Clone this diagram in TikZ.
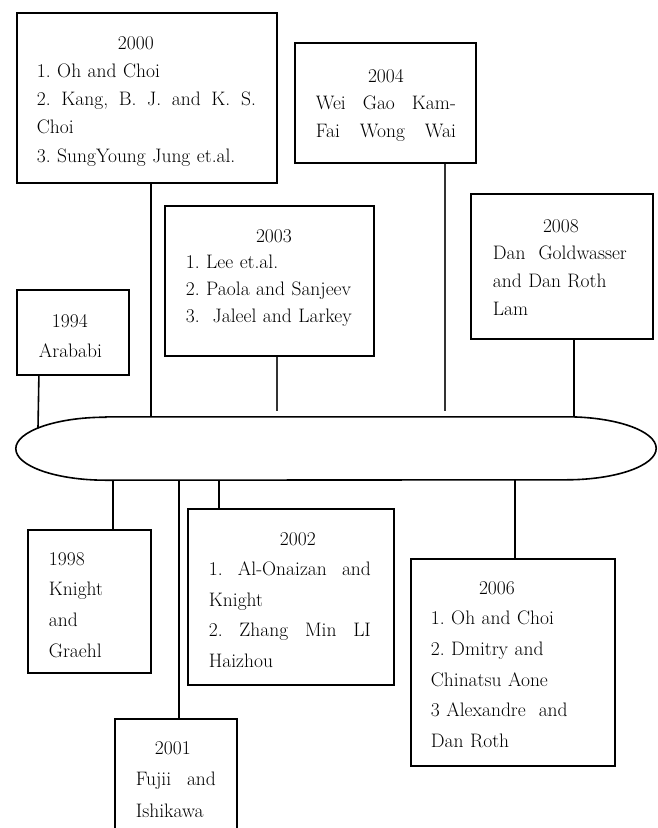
\documentclass[tikz,border=0pt]{standalone}
\usetikzlibrary{calc}
\tikzset{
  entry/.style={draw, line width=1.8pt, inner sep=0pt, anchor=north west, align=left,
    font=\fontsize{19.5pt}{#1pt}\selectfont\frenchspacing},
  conn/.style={line width=1.6pt},
  thinconn/.style={line width=1.2pt, black!80},
  stadium/.style={line width=1.6pt}
}
\newcommand\topstrut[1]{\noindent\rule{0pt}{#1}}
\newcommand\botstrut[1]{\rule[-#1]{0pt}{0pt}}
\newcommand\justline[2]{\makebox[#1][s]{\spaceskip=.3333em plus 20em\relax #2}}
\begin{document}
\begin{tikzpicture}[x=1pt,y=1pt]
\useasboundingbox (0,0) rectangle (658,-828);

% boxes above the timeline
\node[entry=28.25, minimum width=260pt, minimum height=170pt, text width=260pt] (b2000) at (16,-12) {%
\topstrut{20.1pt}\hspace*{119pt}\makebox[0pt]{2000}\\
\hspace*{20pt}1. Oh and Choi\\
\hspace*{20pt}\justline{219pt}{2. Kang, B. J. and K. S.}\\
\hspace*{20pt}Choi\\
\hspace*{20pt}3. SungYoung Jung et.al.\botstrut{4.5pt}};

\node[entry=27.5, minimum width=181pt, minimum height=120pt, text width=181pt] (b2004) at (294,-42) {%
\topstrut{18.1pt}\hspace*{91pt}\makebox[0pt]{2004}\\
\hspace*{21pt}\justline{140pt}{Wei Gao Kam-}\\
\hspace*{21pt}\justline{140pt}{Fai Wong Wai}\botstrut{4.5pt}};

\node[entry=26.7, minimum width=209pt, minimum height=150pt, text width=209pt] (b2003) at (164,-205) {%
\topstrut{14pt}\hspace*{109pt}\makebox[0pt]{2003}\\
\hspace*{21pt}1. Lee et.al.\\
\hspace*{21pt}2. Paola and Sanjeev\\
\hspace*{21pt}3.\ \ Jaleel and Larkey\botstrut{11.4pt}};

\node[entry=27.7, minimum width=182pt, minimum height=145pt, text width=182pt] (b2008) at (470,-193) {%
\topstrut{19.1pt}\hspace*{90pt}\makebox[0pt]{2008}\\
\hspace*{22pt}Dan\ \ Goldwasser\\
\hspace*{22pt}and Dan Roth\\
\hspace*{22pt}Lam\botstrut{4.5pt}};

\node[entry=30, minimum width=112pt, minimum height=85pt, text width=112pt] (b1994) at (16,-289) {%
\topstrut{24.1pt}\hspace*{53pt}\makebox[0pt]{1994}\\
\hspace*{53.5pt}\makebox[0pt]{Arababi}\botstrut{4.5pt}};

% boxes below the timeline
\node[entry=30.7, minimum width=123pt, minimum height=143pt, text width=123pt] (b1998) at (27,-529) {%
\topstrut{24.1pt}\hspace*{21pt}1998\\
\hspace*{21pt}Knight\\
\hspace*{21pt}and\\
\hspace*{21pt}Graehl\botstrut{4.5pt}};

\node[entry=30.5, minimum width=206pt, minimum height=176pt, text width=206pt] (b2002) at (187,-508) {%
\topstrut{23.1pt}\hspace*{110pt}\makebox[0pt]{2002}\\
\hspace*{21pt}\justline{162pt}{1. Al-Onaizan and}\\
\hspace*{21pt}Knight\\
\hspace*{21pt}\justline{162pt}{2. Zhang Min LI}\\
\hspace*{21pt}Haizhou\botstrut{4.5pt}};

\node[entry=31.5, minimum width=122pt, minimum height=121pt, text width=122pt] (b2001) at (114,-718) {%
\topstrut{17.1pt}\hspace*{58pt}\makebox[0pt]{2001}\\
\hspace*{21pt}\justline{80pt}{Fujii and}\\
\hspace*{21pt}Ishikawa\botstrut{4.5pt}};

\node[entry=30.6, minimum width=204pt, minimum height=207pt, text width=204pt] (b2006) at (410,-558) {%
\topstrut{21.1pt}\hspace*{86pt}\makebox[0pt]{2006}\\
\hspace*{20pt}1. Oh and Choi\\
\hspace*{20pt}2. Dmitry and\\
\hspace*{20pt}Chinatsu Aone\\
\hspace*{20pt}3 Alexandre\ \ and\\
\hspace*{20pt}Dan Roth\botstrut{4.5pt}};

% timeline
\node[minimum width=640pt, minimum height=63pt, inner sep=0pt] (tl) at (336,-448.5) {};
\draw[stadium] ([xshift=90pt]tl.north west) -- ([xshift=-90pt]tl.north east)
  arc[start angle=90, end angle=-90, x radius=90pt, y radius=31.5pt]
  -- ([xshift=90pt]tl.south west)
  arc[start angle=270, end angle=90, x radius=90pt, y radius=31.5pt] -- cycle;

% connector points
\coordinate (c94) at ([xshift=-34pt]b1994.south);
\coordinate (e94) at (38,-428);
\coordinate (c00) at ([xshift=4pt]b2000.south);
\coordinate (c03) at ([xshift=7.5pt]b2003.south);
\coordinate (c04) at ([xshift=59.5pt]b2004.south);
\coordinate (c08) at ([xshift=12pt]b2008.south);
\coordinate (c98) at ([xshift=23.5pt]b1998.north);
\coordinate (c01) at ([xshift=3pt]b2001.north);
\coordinate (c02) at ([xshift=-72pt]b2002.north);
\coordinate (c06) at ([xshift=2pt]b2006.north);

\draw[conn] (c94) -- (e94);
\draw[conn] (c00) -- (c00 |- tl.north);
\draw[thinconn, shorten >=6pt] (c03) -- (c03 |- tl.north);
\draw[thinconn, shorten >=6pt] (c04) -- (c04 |- tl.north);
\draw[conn] (c08) -- (c08 |- tl.north);
\draw[conn] (c98 |- tl.south) -- (c98);
\draw[conn] (c01 |- tl.south) -- (c01);
\draw[conn] (c02 |- tl.south) -- (c02);
\draw[conn] (c06 |- tl.south) -- (c06);
\end{tikzpicture}
\end{document}
